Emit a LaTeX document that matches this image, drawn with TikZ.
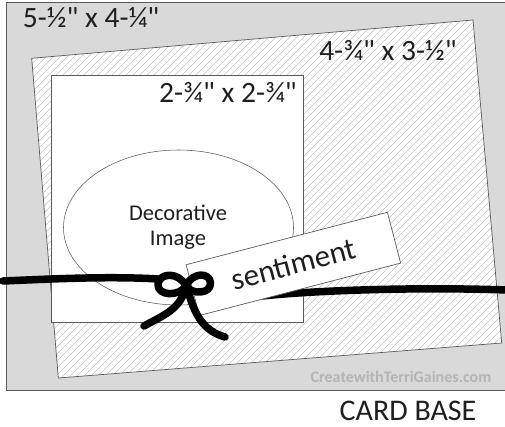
\documentclass[tikz,border=0pt]{standalone}
\usepackage{fontspec}
\setmainfont{Carlito}[Ligatures=TeXOff]
\definecolor{cardgray}{HTML}{D9D9D9}
\definecolor{edgegray}{HTML}{5A5A5A}
\definecolor{hatchgray}{HTML}{C4C4C4}
\definecolor{markgray}{HTML}{B4B4B4}
\tikzset{
  panel/.style={draw=edgegray, line width=0.7pt},
  ribbon/.style={line width=7.5pt, line cap=round, line join=round, black},
  dimlabel/.style={font=\fontsize{29.5}{32}\selectfont, inner sep=0pt, text=black!88},
  midlabel/.style={font=\fontsize{22.5}{26}\selectfont, inner sep=0pt, text=black!88},
}
\begin{document}
\begin{tikzpicture}[x=1pt,y=-1pt]
\useasboundingbox (0,0) rectangle (505,427);
% card base
\fill[cardgray] (6,2) rectangle (506,390);
\draw[panel] (506,2) -- (6,2) -- (6,390) -- (506,390);
% hatched panel
\coordinate (h1) at (31.7,58.3);
\coordinate (h2) at (473,20);
\coordinate (h3) at (501.7,343);
\coordinate (h4) at (58.3,378);
\fill[white] (h1) -- (h2) -- (h3) -- (h4) -- cycle;
\begin{scope}
\clip (h1) -- (h2) -- (h3) -- (h4) -- cycle;
\foreach \c in {-460,-453,...,520} {
  \draw[hatchgray, line width=0.55pt] (\c,430) -- (\c+430,0);
}
\end{scope}
\draw[panel] (h1) -- (h2) -- (h3) -- (h4) -- cycle;
% white square panel
\draw[panel, fill=white] (51.7,75) rectangle (303.3,322.5);
% ellipse
\draw[panel, line width=0.55pt] (178.5,227.5) ellipse [x radius=115, y radius=77.5];
\node[midlabel] (deco) at (178,212.5) {Decorative};
\node[midlabel] (img) at (178,240) {Image};
% right ribbon (under sentiment)
\draw[ribbon] (262,296) .. controls (320,290) and (420,287) .. (507,290);
% sentiment strip
\node[panel, fill=white, rotate=14.6, minimum width=208pt, minimum height=52.5pt, inner sep=0pt,
      font=\fontsize{31}{34}\selectfont, text=black!88] (sent) at (293.4,263.9) {sentiment};
% left ribbon and bow
\draw[ribbon] (3,281) .. controls (50,279) and (110,276) .. (158,279);
\draw[ribbon] (186,286) .. controls (179,272) and (160,272) .. (158,284)
   .. controls (157,296) and (179,297) .. (186,286);
\draw[ribbon] (186,286) .. controls (192,272) and (210,272) .. (210.5,283)
   .. controls (211,294) and (192,295) .. (186,286);
\draw[ribbon] (185,290) .. controls (179,310) and (162,316) .. (144,326);
\draw[ribbon] (188,291) .. controls (195,316) and (204,331) .. (225,337);
% labels
\node[dimlabel] (outer) at (91,18) {5-½" x 4-¼"};
\node[dimlabel] (mat) at (388,51) {4-¾" x 3-½"};
\node[dimlabel] (sq) at (228,92) {2-¾" x 2-¾"};
\node[font=\bfseries\fontsize{16}{19}\selectfont, text=markgray, inner sep=0pt] (mark) at (401,377) {CreatewithTerriGaines.com};
\node[font=\fontsize{30}{34}\selectfont, text=black!88, inner sep=0pt] (base) at (408,411) {CARD BASE};
\end{tikzpicture}
\end{document}
